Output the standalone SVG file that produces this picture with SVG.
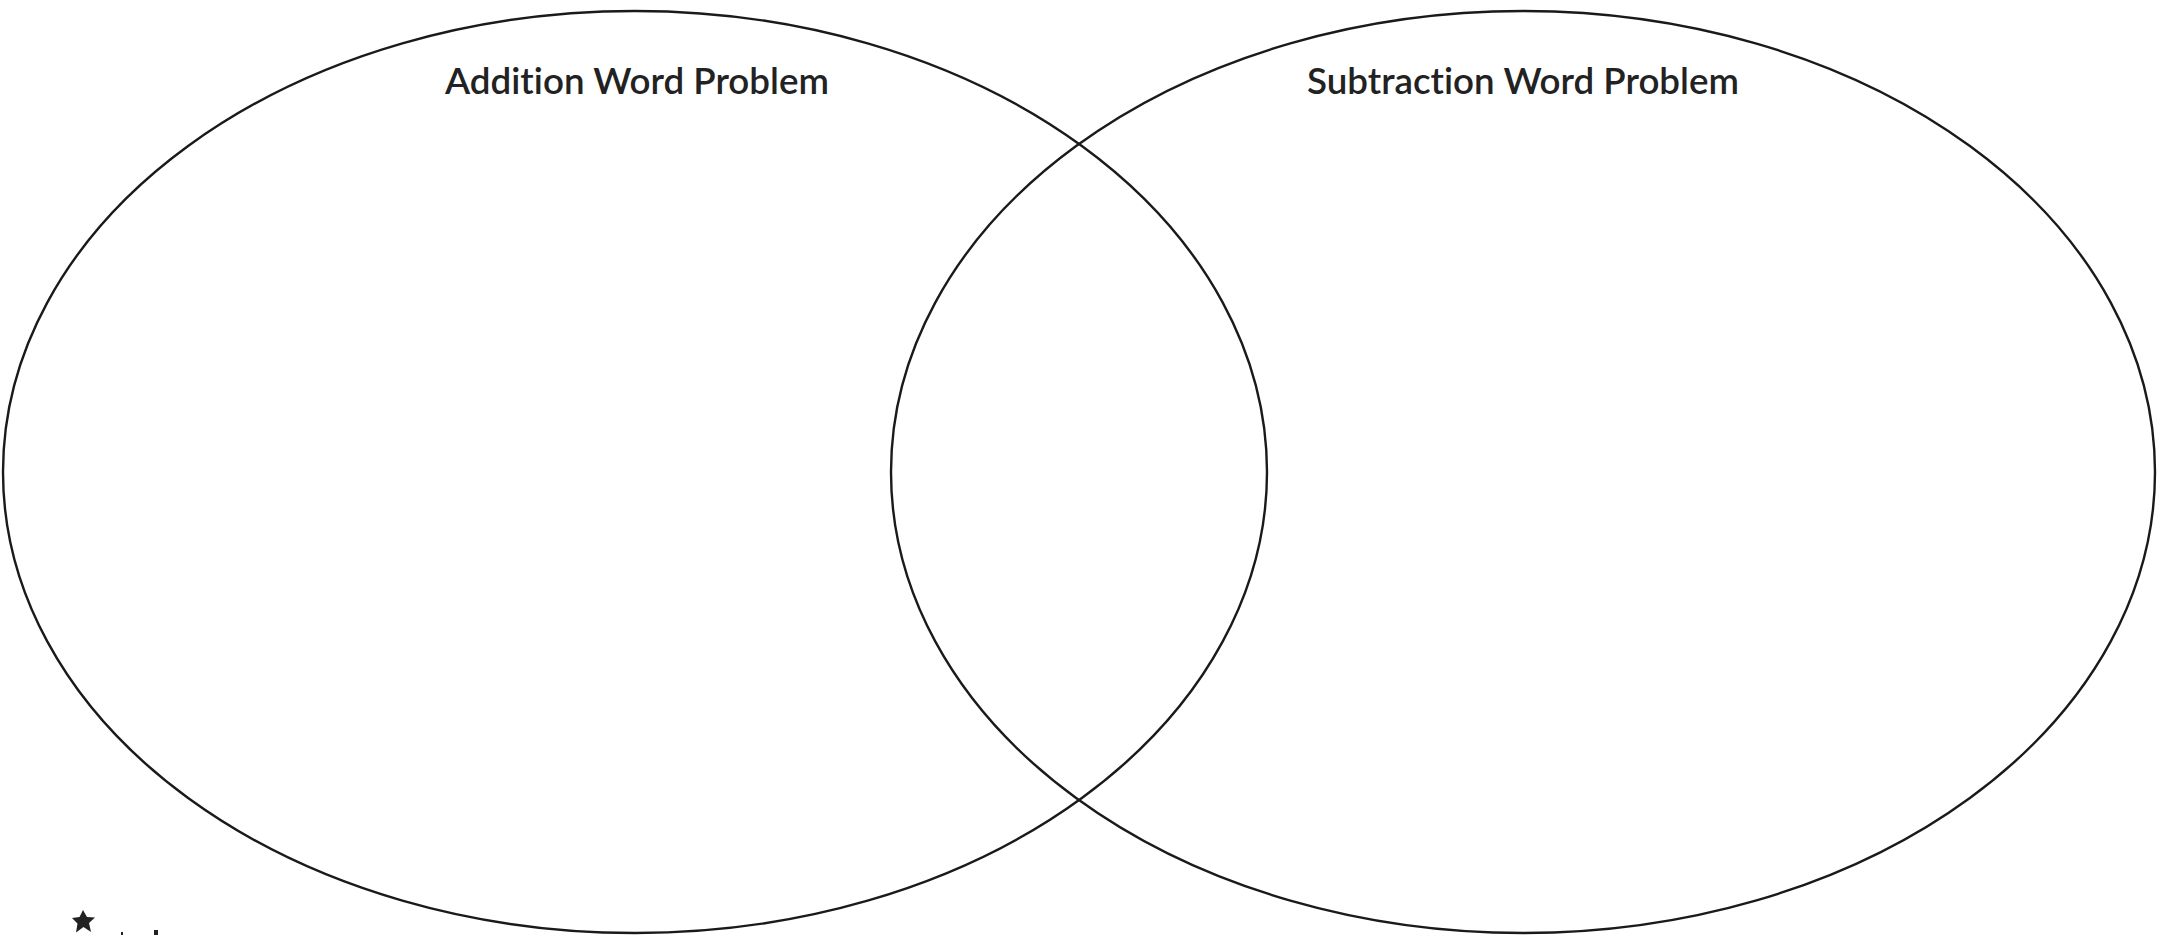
<svg xmlns="http://www.w3.org/2000/svg" width="2157" height="935" viewBox="0 0 2157 935">
  <style>
    .circle { fill: none; stroke: #1a1a1a; stroke-width: 2.4; }
    .title { font-family: "Lato", "Open Sans", "Liberation Sans", sans-serif; font-size: 37px; font-weight: 600; fill: #222222; font-variant-ligatures: none; }
    .mark { fill: #222222; }
  </style>
  <rect x="0" y="0" width="2157" height="935" fill="#ffffff"/>
  <g id="set-addition">
    <ellipse class="circle" cx="635" cy="472" rx="632" ry="461"/>
    <text class="title" x="445" y="94" textLength="384" lengthAdjust="spacingAndGlyphs">Addition Word Problem</text>
  </g>
  <g id="set-subtraction">
    <ellipse class="circle" cx="1523" cy="472" rx="632" ry="461"/>
    <text class="title" x="1307" y="94" textLength="432" lengthAdjust="spacingAndGlyphs">Subtraction Word Problem</text>
  </g>
  <g id="connectors"></g>
  <g id="logo">
    <polygon class="mark" points="83,910 87,917 95,917.5 89,923 91,932 83.5,927 76,932.5 77.5,923.5 72,918 79.5,917"/>
    <rect class="mark" x="121" y="932" width="2" height="3"/>
    <rect class="mark" x="154" y="930" width="4" height="5"/>
  </g>
</svg>
